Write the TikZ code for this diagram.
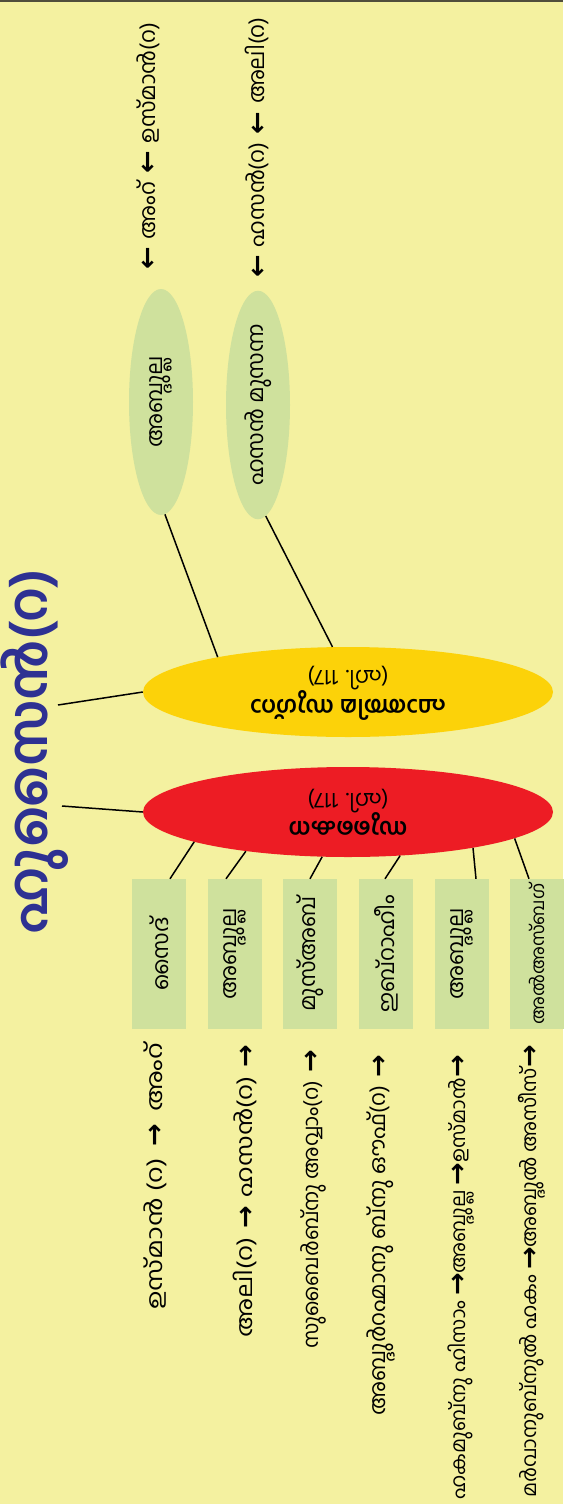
\documentclass[tikz,border=0pt]{standalone}
\usepackage{fontspec}
\usepackage{graphicx}
\usetikzlibrary{shapes.geometric}
\newfontfamily\ml[Script=Malayalam]{Hind Kochi}
\newfontfamily\arr{DejaVu Sans}
\definecolor{bg}{RGB}{244,241,160}
\definecolor{topline}{RGB}{80,78,60}
\definecolor{lgreen}{RGB}{207,225,157}
\definecolor{gold}{RGB}{252,210,9}
\definecolor{hred}{RGB}{237,28,36}
\definecolor{tblue}{RGB}{46,49,146}
\newcommand\myra{\raisebox{-1.5pt}{\arr\bfseries\fontsize{27}{27}\selectfont →}}
\newcommand\myla{\raisebox{-1.5pt}{\arr\bfseries\fontsize{27}{27}\selectfont ←}}
\newcommand\gap{\hspace{8pt}}
\tikzset{
  mlfont/.style={font=\ml\fontsize{22}{26}\selectfont},
  gbox/.style={mlfont, fill=lgreen, minimum width=54pt, minimum height=150pt, inner sep=0pt},
  gell/.style={mlfont, ellipse, fill=lgreen, minimum width=64pt, minimum height=226pt, inner sep=0pt},
  bigell/.style={ellipse, minimum width=410pt, minimum height=90pt, inner sep=0pt, font=\ml\fontsize{20}{24}\selectfont},
  vtext/.style={mlfont, inner sep=0pt},
  conn/.style={line width=1.5pt, black}
}
\begin{document}
\begin{tikzpicture}[x=1pt,y=-1pt]
\useasboundingbox (0,0) rectangle (563,1504);
\fill[bg] (0,0) rectangle (563,1504);
\draw[line width=2pt, topline] (0,1) -- (563,1);

% title
\node[font=\ml\bfseries\fontsize{54}{64}\selectfont, text=tblue, inner sep=0pt] (title) at (35,752) {\rotatebox{90}{ഹുസൈൻ(റ)}};
\coordinate (tc1) at (58,705);
\coordinate (tc2) at (62,806);

% daughters
\node[bigell, fill=gold] (yel) at (348,692) {\rotatebox{180}{\begin{tabular}{@{}c@{}}{\bfseries\fontsize{23}{26}\selectfont ഫാത്തിമ സുഗ്റാ}\\[0pt]{\fontsize{22}{26}\selectfont (ഹി. 117)}\end{tabular}}};
\node[bigell, fill=hred] (red) at (348,812) {\rotatebox{180}{\begin{tabular}{@{}c@{}}{\bfseries\fontsize{23}{26}\selectfont സുകൈന}\\[0pt]{\fontsize{22}{26}\selectfont (ഹി. 117)}\end{tabular}}};

% husbands of the yellow one
\node[gell] (h1) at (161,402) {\rotatebox{90}{അബ്ദുല്ല}};
\node[gell] (h2) at (258,405) {\rotatebox{90}{ഹസൻ മുസന്ന}};
\node[vtext, anchor=south] (a1) at (148,270) {\rotatebox{90}{\myla\gap അംറ്\gap\myla\gap ഉസ്മാൻ(റ)}};
\node[vtext, anchor=south] (a2) at (257,278) {\rotatebox{90}{\myla\gap ഹസൻ(റ)\gap\myla\gap അലി(റ)}};

% husbands of the red one
\node[gbox] (b1) at (159,954) {\rotatebox{90}{സൈദ്}};
\node[gbox] (b2) at (235,954) {\rotatebox{90}{അബ്ദുല്ല}};
\node[gbox] (b3) at (310,954) {\rotatebox{90}{മുസ്അബ്}};
\node[gbox] (b4) at (386,954) {\rotatebox{90}{ഇബ്റാഹീം}};
\node[gbox] (b5) at (462,954) {\rotatebox{90}{അബ്ദുല്ല}};
\node[gbox, font=\ml\fontsize{18}{22}\selectfont] (b6) at (537,954) {\rotatebox{90}{അൽഅസ്ബഗ്}};

\node[vtext, anchor=north] (l1) at (155,1043) {\rotatebox{90}{\scalebox{1.2}[1]{ഉസ്മാൻ (റ)}\hspace{12pt}\myra\hspace{12pt}\scalebox{1.2}[1]{അംറ്}}};
\node[vtext, anchor=north] (l2) at (245,1045) {\rotatebox{90}{\scalebox{1.15}[1]{അലി(റ)}\hspace{9pt}\myra\hspace{9pt}\scalebox{1.15}[1]{ഹസൻ(റ)}\hspace{9pt}\myra}};
\node[vtext, anchor=north, font=\ml\fontsize{21}{25}\selectfont] (l3) at (313,1050) {\rotatebox{90}{സുബൈർബ്നു അവ്വാം(റ)\gap\myra}};
\node[vtext, anchor=north] (l4) at (381,1055) {\rotatebox{90}{അബ്ദുർറഹ്മാനു ബ്നു ഔഫ്(റ)\gap\myra}};
\node[vtext, anchor=north, font=\ml\fontsize{20}{24}\selectfont] (l5) at (461,1055) {\rotatebox{90}{ഹകമുബ്നു ഹിസാം \myra അബ്ദുല്ല \myra ഉസ്മാൻ\myra}};
\node[vtext, anchor=north, font=\ml\fontsize{20}{24}\selectfont] (l6) at (532,1045) {\rotatebox{90}{മർവാനുബ്നുൽ ഹകം \myra അബ്ദുൽ അസീസ്\myra}};

% connectors
\draw[conn] (tc1) -- (yel.west);
\draw[conn] (tc2) -- (red.west);
\draw[conn] (h1.272) -- (yel.165.2);
\draw[conn] (h2.274.8) -- (yel.109.6);
\draw[conn] (red.191) -- ([xshift=11pt]b1.north);
\draw[conn] (red.201.5) -- ([xshift=-9pt]b2.north);
\draw[conn] (red.240.8) -- (b3.north);
\draw[conn] (red.320) -- ([xshift=-1pt]b4.north);
\draw[conn] (red.344.7) -- ([xshift=14pt]b5.north);
\draw[conn] (red.351.4) -- ([xshift=-8pt]b6.north);
\end{tikzpicture}
\end{document}
